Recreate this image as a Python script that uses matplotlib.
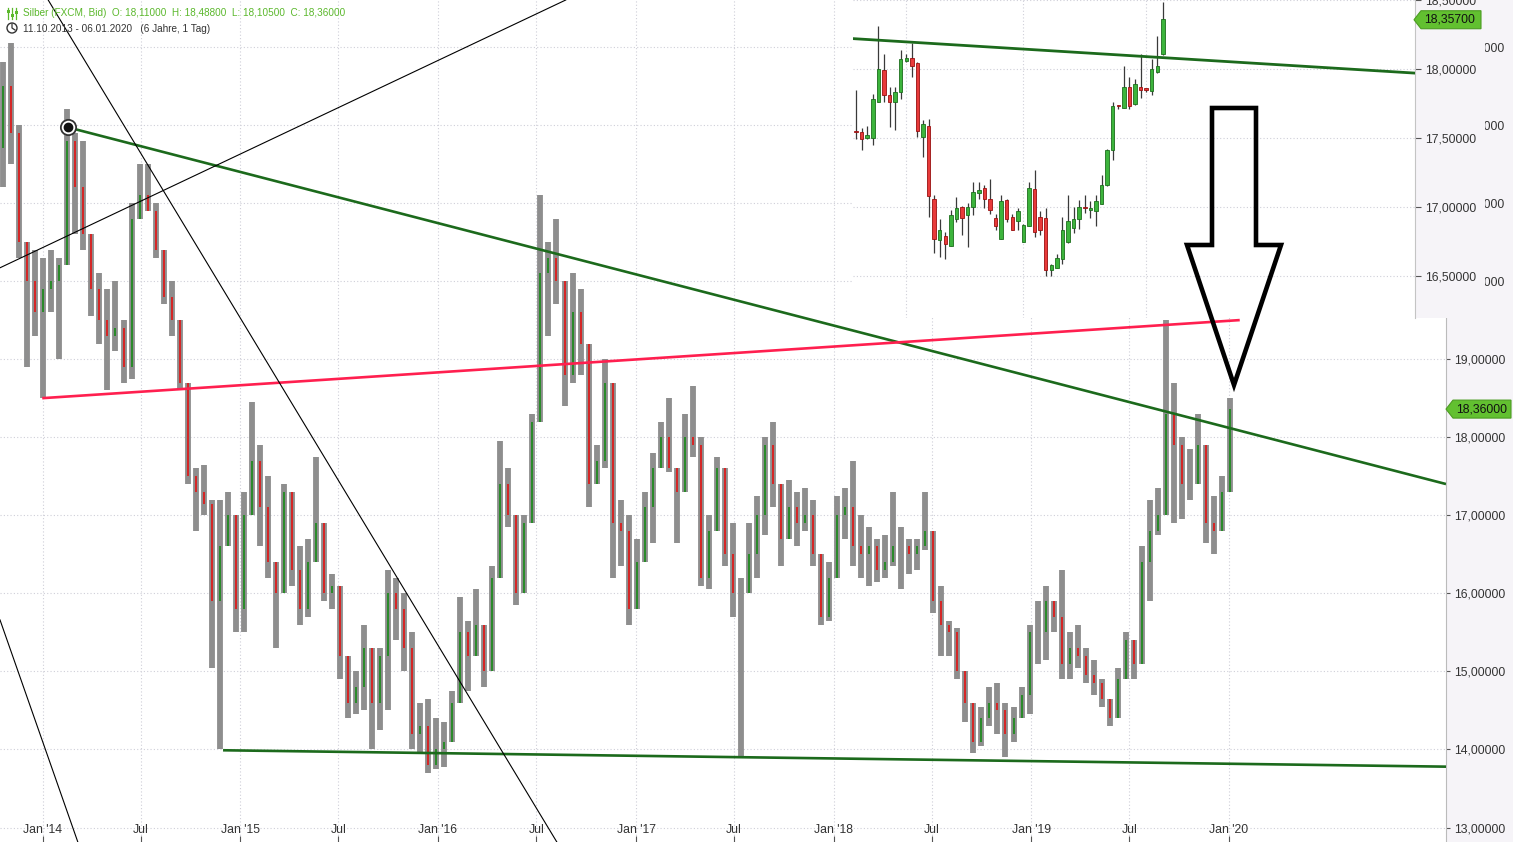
import numpy as np
import pandas as pd
import matplotlib
matplotlib.use("Agg")
import matplotlib.pyplot as plt
import matplotlib.dates as mdates
import matplotlib.transforms as mtransforms
from matplotlib.patches import Polygon, Rectangle, Circle
from matplotlib.lines import Line2D

plt.rcParams['font.family'] = ['Liberation Sans', 'DejaVu Sans']

W, H = 1513, 842

# Hauptchart: grobe Kerzen (ca. 2 Wochen)
high = [22.8, 23.05, 22.0, 20.4, 20.4, 20.3, 20.4, 20.3, 22.2, 21.9,
        21.8, 20.35, 20.1, 19.9, 20.0, 19.5, 21.0, 21.5, 21.5, 21.0,
        20.35, 20.0, 19.35, 18.7, 17.6, 17.65, 17.2, 17.2, 17.3, 17.0,
        17.3, 18.45, 17.9, 17.5, 16.4, 17.4, 17.3, 16.6, 16.7, 17.75,
        16.9, 16.25, 16.1, 15.2, 15.0, 15.6, 15.3, 15.3, 16.3, 16.2,
        16.0, 15.5, 14.6, 14.65, 14.4, 14.35, 14.75, 15.95, 15.65, 16.05,
        15.6, 16.35, 17.95, 17.6, 17.0, 17.0, 18.3, 21.1, 20.5, 20.8,
        20.0, 20.1, 19.9, 19.2, 17.9, 19.0, 18.7, 17.2, 17.0, 16.7,
        17.3, 17.8, 18.2, 18.5, 17.6, 18.3, 18.65, 18.0, 17.0, 17.75,
        17.6, 16.9, 16.2, 16.9, 17.25, 18.0, 18.2, 17.4, 17.45, 17.3,
        17.35, 17.2, 16.5, 16.4, 17.25, 17.35, 17.7, 17.0, 16.85, 16.7,
        16.75, 17.3, 16.85, 16.7, 16.7, 17.3, 16.8, 16.1, 15.65, 15.55,
        15.0, 14.6, 14.55, 14.8, 14.85, 14.6, 14.55, 14.8, 15.6, 15.9,
        16.1, 15.9, 16.3, 15.5, 15.6, 15.3, 15.15, 14.9, 14.65, 15.05,
        15.5, 15.4, 16.6, 17.2, 17.35, 19.5, 18.7, 18.0, 17.85, 18.3,
        17.9, 17.25, 17.5, 18.5]
low = [21.2, 21.5, 20.3, 18.9, 19.3, 18.5, 19.6, 19.0, 20.3, 20.6,
       20.4, 19.55, 19.2, 18.6, 19.1, 18.7, 18.75, 20.8, 20.9, 20.3,
       19.7, 19.3, 18.6, 17.4, 16.8, 17.0, 15.05, 14.0, 16.6, 15.5,
       15.5, 17.0, 16.6, 16.2, 15.3, 16.0, 16.1, 15.6, 15.7, 16.4,
       15.9, 15.8, 14.9, 14.4, 14.45, 14.5, 14.0, 14.25, 14.5, 15.4,
       15.0, 14.0, 13.95, 13.7, 13.75, 13.77, 14.1, 14.6, 14.75, 15.2,
       14.8, 15.0, 16.2, 16.85, 15.85, 16.0, 16.9, 18.2, 19.3, 19.7,
       18.4, 18.7, 18.8, 17.1, 17.4, 17.6, 16.2, 16.35, 15.6, 15.8,
       16.4, 16.65, 17.6, 17.55, 16.65, 17.3, 17.75, 16.1, 16.05, 16.8,
       16.35, 15.7, 13.9, 16.0, 16.2, 16.75, 17.1, 16.35, 16.7, 16.6,
       16.8, 16.35, 15.6, 15.65, 16.2, 16.7, 16.35, 16.2, 16.1, 16.15,
       16.2, 16.35, 16.05, 16.25, 16.3, 16.55, 15.75, 15.2, 15.2, 14.9,
       14.35, 13.95, 14.05, 14.3, 14.2, 13.9, 14.1, 14.4, 14.45, 15.1,
       15.15, 15.5, 14.9, 14.9, 15.05, 14.85, 14.7, 14.55, 14.3, 14.4,
       14.9, 14.9, 15.1, 15.9, 16.75, 17.0, 16.9, 16.95, 17.2, 17.4,
       16.65, 16.5, 16.8, 17.3]
close = [22.5, 21.9, 20.5, 20.0, 19.6, 19.9, 20.0, 20.2, 21.8, 21.2,
         20.6, 19.9, 19.5, 19.3, 19.4, 18.9, 20.8, 21.1, 20.9, 20.4,
         19.8, 19.5, 18.7, 17.5, 17.3, 17.15, 15.9, 16.6, 17.0, 15.8,
         17.0, 17.7, 17.1, 16.4, 16.0, 17.3, 16.3, 15.8, 16.4, 16.9,
         16.0, 16.1, 15.2, 14.6, 14.8, 15.3, 14.6, 15.2, 16.0, 15.8,
         15.3, 14.2, 14.3, 13.8, 14.0, 14.1, 14.6, 15.5, 15.2, 15.6,
         15.0, 16.2, 17.4, 17.0, 16.0, 16.9, 18.2, 20.1, 20.3, 20.0,
         18.8, 19.6, 19.2, 17.4, 17.7, 18.7, 16.9, 16.8, 15.8, 16.4,
         17.1, 17.6, 18.0, 17.6, 17.3, 18.0, 17.9, 16.2, 16.8, 17.6,
         16.5, 16.0, 16.0, 16.5, 17.0, 17.9, 17.4, 16.7, 17.1, 16.9,
         17.0, 16.5, 15.7, 16.2, 17.0, 17.1, 16.6, 16.5, 16.6, 16.3,
         16.4, 16.6, 16.6, 16.5, 16.6, 16.8, 15.9, 15.6, 15.5, 15.0,
         14.6, 14.1, 14.4, 14.6, 14.5, 14.2, 14.4, 14.7, 15.5, 15.5,
         15.9, 15.7, 15.1, 15.3, 15.2, 14.95, 14.85, 14.65, 14.4, 14.9,
         15.4, 15.1, 16.4, 16.8, 17.0, 18.3, 17.9, 17.4, 17.4, 17.9,
         16.9, 16.8, 17.3, 18.36]
first_open = 21.7
dates = pd.date_range('2013-10-20', '2020-01-03', periods=len(close))

# Inset: Tageskerzen der letzten Wochen
in_open = [17.54, 17.54, 17.50, 17.50, 17.76, 17.99, 17.81, 17.76, 17.83, 18.06,
           18.08, 18.04, 17.51, 17.59, 17.06, 16.76, 16.79, 16.72, 16.91, 17.00,
           16.94, 17.00, 17.10, 17.14, 17.06, 16.92, 16.77, 17.05, 16.93, 16.90,
           16.75, 16.86, 17.13, 16.93, 16.92, 16.54, 16.56, 16.62, 16.75, 16.85,
           16.91, 16.99, 16.98, 16.97, 17.02, 17.16, 17.41, 17.73, 17.72, 17.87,
           17.75, 17.87, 17.85, 17.84, 17.98, 18.11]
in_high = [17.85, 17.57, 17.59, 17.82, 18.31, 18.11, 17.87, 17.87, 18.14, 18.11,
           18.19, 18.05, 17.63, 17.64, 17.09, 16.91, 16.82, 16.98, 17.07, 17.01,
           17.03, 17.18, 17.18, 17.16, 17.20, 16.95, 17.09, 17.06, 16.95, 16.99,
           16.88, 17.18, 17.27, 16.97, 16.99, 16.59, 16.66, 16.93, 17.09, 17.00,
           17.05, 17.09, 17.04, 17.09, 17.23, 17.42, 17.76, 17.74, 18.02, 17.94,
           17.93, 18.11, 17.86, 18.07, 18.24, 18.488]
in_low = [17.49, 17.41, 17.49, 17.45, 17.76, 17.76, 17.58, 17.56, 17.78, 18.05,
          17.94, 17.51, 17.36, 16.93, 16.67, 16.64, 16.62, 16.72, 16.89, 16.80,
          16.71, 16.94, 17.06, 16.99, 16.95, 16.83, 16.77, 16.89, 16.83, 16.83,
          16.75, 16.86, 16.78, 16.80, 16.50, 16.50, 16.56, 16.59, 16.74, 16.81,
          16.84, 16.96, 16.92, 16.86, 17.02, 17.15, 17.34, 17.71, 17.72, 17.71,
          17.74, 17.79, 17.83, 17.81, 17.97, 18.105]
in_close = [17.53, 17.49, 17.52, 17.78, 18.00, 17.81, 17.76, 17.83, 18.07, 18.08,
            18.02, 17.55, 17.60, 17.08, 16.77, 16.83, 16.73, 16.94, 16.99, 16.92,
            17.00, 17.11, 17.12, 17.06, 16.98, 16.86, 17.04, 16.91, 16.83, 16.97,
            16.87, 17.14, 16.82, 16.83, 16.54, 16.58, 16.63, 16.83, 16.90, 16.91,
            17.00, 16.98, 16.99, 17.04, 17.16, 17.41, 17.73, 17.72, 17.87, 17.73,
            17.89, 17.85, 17.84, 18.00, 18.02, 18.36]
in_grid_idx = [9, 30, 52]
in_trend = [(-0.5, 18.22), (100.3, 17.97)]

# Trendlinien (Datum, Kurs)
green_top = [('2014-02-16', 21.97), ('2021-02-05', 17.40)]
green_bottom = [('2014-11-30', 13.99), ('2021-02-05', 13.78)]
red_line = [('2013-12-31', 18.50), ('2020-01-21', 19.50)]
black_lines = [[('2013-10-14', 20.17), ('2016-08-24', 23.6)],
               [('2014-01-11', 23.6), ('2016-08-08', 12.81)],
               [('2013-10-14', 15.66), ('2014-03-07', 12.81)]]

month_ticks = ['2014-01-01', '2014-07-01', '2015-01-01', '2015-07-01', '2016-01-01',
               '2016-07-01', '2017-01-01', '2017-07-01', '2018-01-01', '2018-07-01',
               '2019-01-01', '2019-07-01', '2020-01-01']
month_labels = ["Jan '14", "Jul", "Jan '15", "Jul", "Jan '16", "Jul", "Jan '17",
                "Jul", "Jan '18", "Jul", "Jan '19", "Jul", "Jan '20"]
price_levels = [13, 14, 15, 16, 17, 18, 19, 20, 21, 22, 23]
last_close = 18.36
in_last = 18.357


def fmt(v):
    return ('%.5f' % v).replace('.', ',')


def disp(x, y):
    # Bildpixel (oben links) -> Anzeige-Koordinaten
    return (x, H - y)


fig = plt.figure(figsize=(W / 100, H / 100), dpi=100)
ident = mtransforms.IdentityTransform()

# Hintergrund der Preisachse
fig.patches.append(Rectangle(disp(1446, H), W - 1446, H, transform=ident,
                             facecolor='#f6f4f8', edgecolor='none', zorder=-1))

ax = fig.add_axes([0, 0, 1446 / W, 1])
ax.set_xlim(pd.Timestamp('2013-10-14'), pd.Timestamp('2021-02-05'))
ax.set_ylim(12.815, 23.6)
for s in ['top', 'left', 'bottom']:
    ax.spines[s].set_visible(False)
ax.spines['right'].set_color('#bbbbbb')

grid_kw = dict(color='#cfcfd8', lw=0.8, linestyle=(0, (1, 2)), zorder=0)
for lv in price_levels:
    ax.axhline(lv, **grid_kw)
for d in month_ticks:
    ax.axvline(pd.Timestamp(d), **grid_kw)

# Kerzen: graues Band (High-Low) mit dünnen farbigen Körpern
opens = [first_open] + close[:-1]
hi = np.maximum.reduce([np.array(high), np.array(opens), np.array(close)])
lo = np.minimum.reduce([np.array(low), np.array(opens), np.array(close)])
ax.vlines(dates, lo, hi, color='#8e8e8e', lw=4.2, zorder=2)
body = np.array(close) - np.array(opens)
cols = np.where(body >= 0, '#218a21', '#dc1c1c')
ax.vlines(dates, opens, close, colors=cols, lw=1.3, zorder=3)

# Trendlinien
def tl(pts, **kw):
    ax.plot([pd.Timestamp(p[0]) for p in pts], [p[1] for p in pts], **kw)

tl(green_top, color='#1c6a1c', lw=1.9, zorder=4, solid_capstyle='butt')
tl(green_bottom, color='#1c6a1c', lw=1.9, zorder=4, solid_capstyle='butt')
tl(red_line, color='#ff1f4f', lw=1.9, zorder=4, solid_capstyle='butt')
for bl in black_lines:
    tl(bl, color='black', lw=0.8, zorder=4)
ax.plot([pd.Timestamp(green_top[0][0])], [green_top[0][1]], marker='o', ms=11,
        mfc='white', mec='#333333', mew=1.3, zorder=5)
ax.plot([pd.Timestamp(green_top[0][0])], [green_top[0][1]], marker='o', ms=6,
        mfc='#111111', mec='#111111', zorder=6)

# Achsen
ax.set_xticks([pd.Timestamp(d) for d in month_ticks])
ax.tick_params(axis='x', direction='in', length=4, color='#555555',
               labelbottom=False)
for d, lab in zip(month_ticks, month_labels):
    ax.text(pd.Timestamp(d), 1 - 830 / H, lab, transform=ax.get_xaxis_transform(),
            ha='center', va='center', fontsize=8.8, color='#333333')
ax.yaxis.tick_right()
ax.set_yticks(price_levels)
ax.set_yticklabels([fmt(v) for v in price_levels])
ax.tick_params(axis='y', length=3, width=0.8, pad=2.5, labelsize=8.8,
               color='#555555', labelcolor='#333333')

# Kasten hinter den Inset-Beschriftungen
fig.patches.append(Rectangle(disp(1415, 318), 1485 - 1415, 318, transform=ident,
                             facecolor='#f6f4f8', edgecolor='none', zorder=1))

# Inset
ax2 = fig.add_axes([853 / W, 1 - 318 / H, (1415 - 853) / W, 318 / H])
ax2.set_zorder(2)
ax2.set_facecolor('white')
ax2.set_xlim(-0.55, 100.2)
ax2.set_ylim(18.5 - 318 / 138, 18.5)
for s in ['top', 'left', 'bottom']:
    ax2.spines[s].set_visible(False)
ax2.spines['right'].set_color('#c4c4c4')
ax2.set_xticks([])
in_levels = [16.5, 17.0, 17.5, 18.0, 18.5]
ax2.yaxis.tick_right()
ax2.set_yticks(in_levels)
ax2.set_yticklabels([fmt(v) for v in in_levels])
ax2.tick_params(axis='y', length=4, width=0.8, pad=3, labelsize=8.8,
                color='#555555', labelcolor='#333333')
for lv in in_levels:
    ax2.axhline(lv, **grid_kw)
for gi in in_grid_idx:
    ax2.axvline(gi, **grid_kw)
idx = np.arange(len(in_close))
ax2.vlines(idx, in_low, in_high, color='#3a3a3a', lw=0.9, zorder=2)
ib = np.array(in_close) - np.array(in_open)
icol = np.where(ib >= 0, '#3cb43c', '#e83a3a')
iedge = np.where(ib >= 0, '#1d6e1d', '#9a1010')
ax2.bar(idx, np.where(np.abs(ib) < 0.012, 0.012, ib), bottom=in_open, width=0.62,
        color=icol, edgecolor=iedge, lw=0.6, zorder=3)
ax2.plot([p[0] for p in in_trend], [p[1] for p in in_trend], color='#1c6a1c',
         lw=2.0, zorder=4)

# Kurs-Fähnchen
def tag(x_tip, y_pix, x_end, text):
    pts = [disp(x_tip, y_pix), disp(x_tip + 7, y_pix - 9), disp(x_end, y_pix - 9),
           disp(x_end, y_pix + 9), disp(x_tip + 7, y_pix + 9)]
    fig.patches.append(Polygon(pts, closed=True, transform=ident, facecolor='#62c030',
                               edgecolor='#4c9c22', lw=0.8, zorder=6))
    fig.text((x_tip + 10) / W, 1 - y_pix / H, text, ha='left', va='center',
             fontsize=8.8, color='#111111', zorder=7)

fig.canvas.draw()
y_main = H - ax.transData.transform((mdates.date2num(pd.Timestamp('2020-01-01')), last_close))[1]
y_in = H - ax2.transData.transform((0, in_last))[1]
tag(1446, y_main, 1511, fmt(last_close))
tag(1414, y_in, 1481, fmt(in_last))

# Pfeil
arrow = [(1212, 108), (1256, 108), (1256, 245), (1281, 245), (1234, 385),
         (1187, 245), (1212, 245)]
fig.patches.append(Polygon([disp(*p) for p in arrow], closed=True, transform=ident,
                           fill=False, edgecolor='black', lw=3.3, joinstyle='miter',
                           zorder=8))

# Kopfzeile
fig.text(23 / W, 1 - 13 / H, 'Silber (FXCM, Bid)  O: 18,11000  H: 18,48800  '
         'L: 18,10500  C: 18,36000', ha='left', va='center', fontsize=7.2,
         color='#5bb82c', zorder=9)
fig.text(23 / W, 1 - 29 / H, '11.10.2013 - 06.01.2020   (6 Jahre, 1 Tag)',
         ha='left', va='center', fontsize=7.2, color='#333333', zorder=9)
for xi, yk in zip([8, 12, 16], [11, 15, 12]):
    fig.lines.append(Line2D([xi, xi], [H - 8, H - 19], transform=ident,
                            color='#5bb82c', lw=0.9, zorder=9))
    fig.patches.append(Rectangle((xi - 1.5, H - yk - 1.5), 3, 3, transform=ident,
                                 facecolor='#5bb82c', edgecolor='none', zorder=9))
fig.patches.append(Circle(disp(12, 28), 5, transform=ident, fill=False,
                          edgecolor='#333333', lw=1.0, zorder=9))
fig.lines.append(Line2D([12, 12, 15], [H - 24, H - 28, H - 30], transform=ident,
                        color='#333333', lw=0.9, zorder=9))

fig.savefig('out.png', dpi=100)
